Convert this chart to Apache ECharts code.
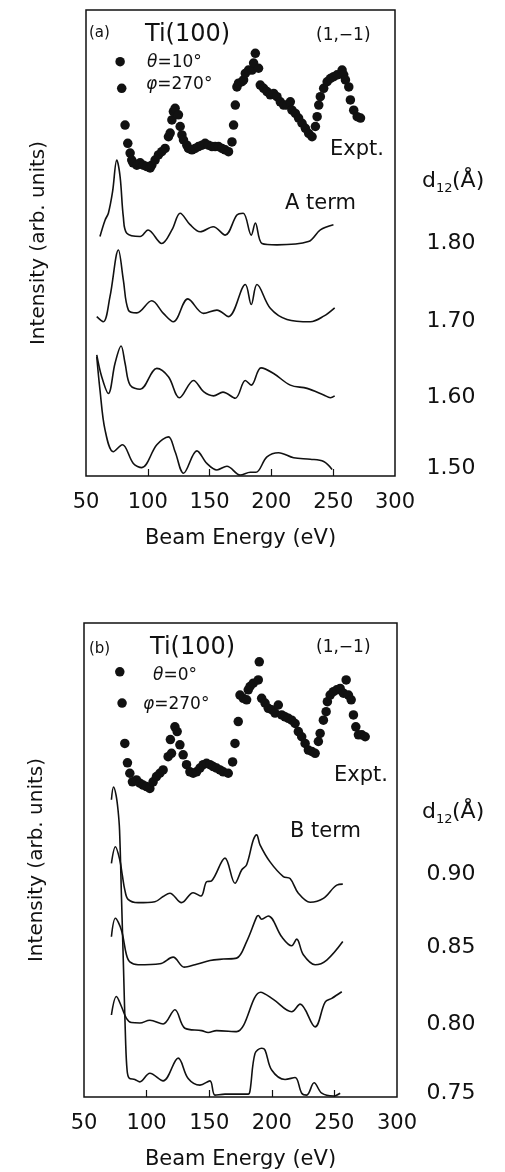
<!DOCTYPE html>
<html><head><meta charset="utf-8">
<script src="https://cdn.jsdelivr.net/npm/echarts@6/dist/echarts.min.js"></script>
<style>html,body{margin:0;padding:0;background:#fff}#c{width:505px;height:1172px}</style>
</head><body><div id="c"></div>
<script>
// ---------- data (Beam energy in eV, intensity in arbitrary units 0-100 of panel height) ----------
const energyRange = [50, 300];
const tickMarks = [100, 150, 200, 250];

const exptA = [[77.6,88.9],[78.9,83.2],[81.6,75.3],[83.8,71.4],[85.7,69.3],[87.0,67.8],[88.1,67.2],[91.1,66.7],[93.8,67.2],[96.4,66.7],[99.2,66.4],[101.9,66.1],[103.2,66.7],[105.9,67.8],[108.6,68.9],[111.3,69.6],[114.0,70.3],[116.7,72.8],[118.1,73.6],[119.5,76.4],[120.7,78.2],[122.1,78.9],[124.8,77.5],[126.2,75.0],[127.6,73.2],[128.9,72.1],[131.6,71.0],[132.9,70.3],[135.7,70.0],[138.3,70.3],[141.0,70.7],[143.8,71.0],[146.4,71.4],[149.1,71.0],[151.9,70.7],[154.5,70.7],[157.2,70.7],[160.0,70.3],[162.6,70.0],[165.3,69.6],[168.1,71.7],[169.4,75.3],[170.8,79.6],[172.1,83.5],[173.4,84.3],[176.2,84.6],[177.5,85.0],[178.9,86.4],[181.5,87.1],[184.3,87.1],[185.6,88.6],[187.0,90.7],[189.6,87.5],[191.0,83.9],[193.7,83.2],[196.4,82.5],[199.1,81.8],[201.8,82.1],[204.5,81.4],[207.2,80.3],[209.9,79.6],[212.6,79.6],[215.3,80.3],[216.7,78.5],[219.4,77.8],[222.0,76.8],[224.8,75.7],[227.5,74.6],[230.2,73.5],[232.9,72.8],[235.6,75.0],[237.0,77.1],[238.3,79.6],[239.6,81.4],[242.3,83.2],[245.1,84.6],[247.7,85.3],[250.4,85.7],[253.2,86.1],[257.2,87.1],[258.5,86.1],[259.9,85.0],[262.6,83.5],[263.9,80.7],[266.6,78.5],[269.4,77.1],[272.1,76.8]];

const aTerm180 = [[61.3,51.4],[65.4,54.9],[68.1,56.4],[71.5,61],[74.9,67.8],[77.6,64.2],[80.2,55.6],[83.0,52.1],[93.8,51.4],[100.2,52.8],[111.3,49.9],[119.5,52.8],[126.2,56.4],[134,54],[142.4,52.4],[152.9,53.5],[162.6,51.7],[172.1,56.0],[177.2,56.4],[183.7,51.7],[187.0,54.3],[192.4,49.9],[204.5,49.6],[229.9,50.3],[239.6,52.8],[250.2,53.9]];
const aTerm170 = [[58.7,34.2],[64.0,33.1],[69.4,38.5],[76.2,48.5],[80.2,42.1],[84.3,35.6],[91.1,35.0],[103.2,37.6],[112.6,34.9],[120.7,33.1],[132.4,38.0],[145.1,34.9],[155.9,35.6],[165.3,34.2],[178.9,41.1],[183.7,36.8],[188.3,41.1],[199.1,36.0],[212.6,33.6],[231.5,33.1],[242.3,34.3],[251.2,36.1]];
const aTerm160 = [[58.7,26.0],[62.7,21.3],[68.1,17.7],[73.5,24.2],[78.4,27.9],[81.6,24.2],[85.7,19.5],[93.8,18.6],[107.3,23.1],[116.7,21.3],[125.6,16.8],[137.0,20.5],[145.1,18.1],[153.2,17.2],[160.8,18.0],[170.8,16.7],[178.9,20.5],[183.7,19.5],[191.6,23.2],[201.8,22.0],[215.3,19.5],[228.9,18.8],[242.3,17.4],[247.7,16.8],[251.2,17.2]];
const aTerm150 = [[58.7,25.6],[61.3,18.5],[65.4,9.9],[72.1,5.2],[79.4,6.7],[88.3,2.7],[95.1,1.8],[107.3,6.7],[116.7,8.4],[122.1,5.2],[128.9,0.6],[139.7,5.4],[147.8,2.7],[155.9,1.3],[164.0,2.1],[174.8,0.2],[182.9,0.8],[187.5,0.8],[196.4,4.1],[205.8,5.0],[218.0,3.9],[231.5,3.6],[242.3,3.1],[249.1,1.4]];

const exptB = [[78.6,89.7],[80.4,83.1],[82.6,74.6],[84.7,70.5],[86.6,68.3],[88.7,66.5],[91.9,66.9],[94.6,66.2],[97.2,65.8],[99.9,65.5],[102.6,65.1],[105.2,66.5],[107.9,67.6],[110.6,68.3],[113.2,69.0],[117.2,71.8],[119.9,72.5],[119.0,75.4],[122.6,78.1],[124.4,77.1],[126.6,74.3],[129.2,72.2],[131.9,70.1],[134.6,68.6],[137.2,68.3],[139.9,68.6],[142.6,69.4],[145.2,70.1],[147.9,70.4],[150.6,70.1],[153.2,69.7],[155.9,69.4],[158.6,69.0],[161.2,68.6],[165.2,68.3],[168.7,70.7],[170.6,74.6],[173.2,79.2],[174.6,84.8],[177.2,84.1],[179.9,83.8],[181.2,85.9],[182.6,86.6],[185.2,87.3],[189.2,88.0],[190.0,91.8],[191.9,84.1],[194.6,83.1],[197.2,82.0],[199.9,81.7],[202.6,81.0],[205.2,82.7],[207.9,80.6],[210.6,80.2],[213.2,79.9],[215.9,79.5],[218.6,78.8],[221.2,77.1],[223.9,76.0],[226.6,74.6],[229.2,73.2],[231.9,72.9],[234.6,72.5],[237.2,75.0],[238.6,76.7],[241.2,79.5],[243.4,81.3],[244.4,83.4],[246.6,84.8],[249.2,85.5],[251.9,85.9],[254.6,86.2],[257.2,85.2],[259.4,88.0],[261.2,84.8],[263.4,83.8],[265.2,80.6],[267.1,78.1],[269.2,76.4],[271.9,76.4],[274.6,76.0]];

const bTerm090 = [[71.9,49.3],[75.1,52.8],[78.6,50.0],[80.6,46.8],[82.6,43.7],[85.2,41.7],[93.2,41.0],[106.6,41.2],[113.2,42.3],[118.6,43.0],[127.9,41.0],[137.2,43.1],[143.4,42.4],[147.9,45.4],[151.9,45.6],[162.6,50.4],[170.6,45.1],[175.9,47.9],[179.9,49.0],[185.2,54.2],[187.9,55.3],[190.6,53.2],[198.6,49.6],[209.2,46.5],[214.6,46.1],[221.2,43.0],[230.6,41.1],[241.2,41.9],[251.9,44.7],[256.7,44.9]];
const bTerm085 = [[71.9,33.8],[75.1,37.7],[79.9,35.2],[83.9,30.0],[86.6,28.5],[93.2,27.9],[110.6,28.1],[121.2,29.5],[130.0,27.4],[138.6,27.9],[150.6,28.8],[161.2,29.1],[171.9,29.3],[179.9,32.8],[187.9,38.0],[189.2,38.3],[191.9,37.5],[197.2,38.2],[207.9,33.8],[215.9,31.9],[219.9,33.3],[225.2,30.0],[234.6,27.9],[243.9,28.9],[256.7,32.8]];
const bTerm080 = [[71.9,17.3],[75.9,21.2],[79.9,19.1],[83.9,16.6],[87.9,15.7],[94.6,15.6],[102.6,16.2],[113.2,15.4],[122.6,18.4],[130.6,14.5],[143.9,14.0],[149.2,13.6],[155.9,14.0],[171.9,13.8],[191.1,22.1],[201.2,20.6],[215.9,18.0],[222.6,19.6],[234.6,14.8],[242.6,20.0],[247.9,20.8],[255.9,22.2]];
const bTerm075 = [[71.9,62.7],[73.6,65.4],[75.6,63.7],[77.2,60.5],[78.4,56.3],[80.0,41.6],[81.6,26.8],[83.2,12.0],[84.4,5.7],[86.0,4.0],[90.6,3.7],[94.6,3.2],[102.6,5.0],[113.2,3.4],[125.2,8.2],[133.2,3.9],[142.6,2.5],[150.6,3.4],[154.6,0.4],[162.6,0.6],[181.2,0.6],[182.6,1.3],[186.6,9.2],[191.9,10.3],[194.6,9.9],[199.9,5.7],[210.6,3.7],[218.6,4.1],[223.9,0.8],[227.9,0.4],[233.8,3.0],[239.9,0.8],[249.2,0.2],[254.6,0.8]];

const d12A = ['1.80', '1.70', '1.60', '1.50'];
const d12B = ['0.90', '0.85', '0.80', '0.75'];

// ---------- chart ----------
const FONT = '"DejaVu Sans", sans-serif';
const INK = '#111';
const chart = echarts.init(document.getElementById('c'), null, {renderer: 'canvas'});

function xAxisDef(gi) {
  return {
    gridIndex: gi, type: 'value', min: energyRange[0], max: energyRange[1], interval: 50,
    axisLine: {show: false},
    axisTick: {show: true, inside: true, length: 7, customValues: tickMarks, lineStyle: {color: INK, width: 1.2}},
    axisLabel: {color: INK, fontSize: 21, fontFamily: FONT, margin: 16},
    splitLine: {show: false},
    name: 'Beam Energy (eV)', nameLocation: 'middle', nameGap: 52,
    nameTextStyle: {color: INK, fontSize: 21, fontFamily: FONT}
  };
}
function yAxisDef(gi) {
  return {
    gridIndex: gi, type: 'value', min: 0, max: 100,
    axisLine: {show: false}, axisTick: {show: false}, axisLabel: {show: false}, splitLine: {show: false},
    name: 'Intensity (arb. units)', nameLocation: 'middle', nameGap: 37,
    nameTextStyle: {color: INK, fontSize: 20, fontFamily: FONT}
  };
}
function line(data, gi) {
  return {type: 'line', xAxisIndex: gi, yAxisIndex: gi, data: data, smooth: 0.35, showSymbol: false,
    lineStyle: {color: INK, width: 1.6}, silent: true, animation: false};
}
function dots(data, gi) {
  return {type: 'scatter', xAxisIndex: gi, yAxisIndex: gi, data: data, symbol: 'circle', symbolSize: 9.5,
    itemStyle: {color: INK, opacity: 1}, silent: true, animation: false};
}
function txt(x, y, s, size, opts) {
  return Object.assign({type: 'text', x: x, y: y, silent: true,
    style: Object.assign({text: s, fill: INK, font: size + 'px ' + FONT, textAlign: 'left', textVerticalAlign: 'middle'}, (opts || {}))});
}
function rich(x, y, sym, rest, size) {
  return {type: 'text', x: x, y: y, silent: true,
    style: {text: '{i|' + sym + '}{n|' + rest + '}', textAlign: 'left', textVerticalAlign: 'middle',
      rich: {i: {fontSize: size, fontStyle: 'italic', fontFamily: FONT, fill: INK, color: INK},
             n: {fontSize: size, fontFamily: FONT, fill: INK, color: INK}}}};
}
function d12Label(x, y) {
  return [txt(x, y, 'd', 22), txt(x + 14, y + 8, '12', 13), txt(x + 30, y, '(Å)', 22)];
}

const rowA = [243, 321, 397, 468];
const rowB = [874, 947, 1024, 1093];

const graphics = [
  txt(89, 33, '(a)', 15),
  txt(145, 35, 'Ti(100)', 24),
  txt(316, 36, '(1,−1)', 17),
  rich(147, 63, 'θ', '=10°', 17),
  rich(146, 85, 'φ', '=270°', 17),
  txt(384, 150, 'Expt.', 21, {textAlign: 'right'}),
  txt(285, 204, 'A term', 21),
  txt(89, 649, '(b)', 15),
  txt(150, 648, 'Ti(100)', 24),
  txt(316, 648, '(1,−1)', 17),
  rich(153, 676, 'θ', '=0°', 17),
  rich(143, 705, 'φ', '=270°', 17),
  txt(388, 776, 'Expt.', 21, {textAlign: 'right'}),
  txt(290, 832, 'B term', 21)
].concat(d12Label(422, 181), d12Label(422, 812));
d12A.forEach((s, i) => graphics.push(txt(451, rowA[i], s, 22, {textAlign: 'center'})));
d12B.forEach((s, i) => graphics.push(txt(451, rowB[i], s, 22, {textAlign: 'center'})));

chart.setOption({
  backgroundColor: '#fff',
  animation: false,
  grid: [
    {left: 86, top: 10, width: 309, height: 466, show: true, borderColor: INK, borderWidth: 1.5, backgroundColor: 'transparent'},
    {left: 84, top: 623, width: 313, height: 474, show: true, borderColor: INK, borderWidth: 1.5, backgroundColor: 'transparent'}
  ],
  xAxis: [xAxisDef(0), xAxisDef(1)],
  yAxis: [yAxisDef(0), yAxisDef(1)],
  series: [
    dots(exptA, 0), line(aTerm180, 0), line(aTerm170, 0), line(aTerm160, 0), line(aTerm150, 0),
    dots(exptB, 1), line(bTerm090, 1), line(bTerm085, 1), line(bTerm080, 1), line(bTerm075, 1)
  ],
  graphic: graphics
});
</script>
</body></html>
